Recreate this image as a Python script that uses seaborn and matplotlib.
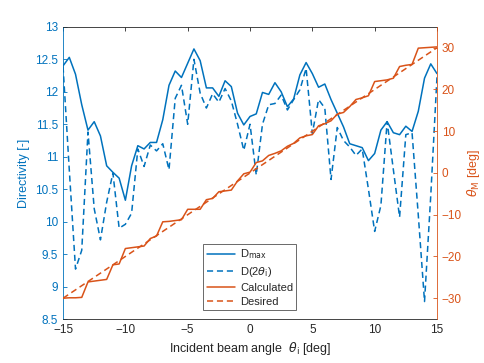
import numpy as np
import pandas as pd
import seaborn as sns
import matplotlib
matplotlib.use("Agg")
import matplotlib.pyplot as plt

# incident angle, 0.5 deg steps
theta_i = [-15, -14.5, -14, -13.5, -13, -12.5, -12, -11.5, -11, -10.5, -10, -9.5, -9, -8.5, -8, -7.5,
           -7, -6.5, -6, -5.5, -5, -4.5, -4, -3.5, -3, -2.5, -2, -1.5, -1, -0.5, 0, 0.5, 1, 1.5, 2,
           2.5, 3, 3.5, 4, 4.5, 5, 5.5, 6, 6.5, 7, 7.5, 8, 8.5, 9, 9.5, 10, 10.5, 11, 11.5, 12,
           12.5, 13, 13.5, 14, 14.5, 15]

d_max = [12.40, 12.53, 12.27, 11.80, 11.41, 11.54, 11.32, 10.86, 10.76, 10.67, 10.33, 10.86, 11.17,
         11.12, 11.22, 11.22, 11.57, 12.10, 12.32, 12.22, 12.44, 12.66, 12.48, 12.06, 12.06, 11.93,
         12.17, 12.08, 11.67, 11.49, 11.62, 11.66, 11.99, 11.96, 12.14, 12.00, 11.77, 11.89, 12.26,
         12.45, 12.28, 12.07, 12.12, 11.88, 11.67, 11.46, 11.20, 11.17, 11.14, 10.94, 11.05, 11.41,
         11.54, 11.37, 11.34, 11.47, 11.39, 11.70, 12.21, 12.43, 12.28]

d_2theta = [12.39, 10.80, 9.27, 9.56, 11.38, 10.20, 9.72, 10.30, 10.75, 9.90, 9.96, 10.13, 11.12,
            10.85, 11.18, 11.09, 11.20, 10.80, 11.90, 12.10, 11.50, 12.50, 11.98, 11.75, 11.97, 11.84,
            12.05, 11.86, 11.50, 11.10, 11.50, 10.72, 11.50, 11.80, 11.82, 11.95, 11.72, 11.88, 12.03,
            12.36, 11.36, 11.88, 11.75, 10.65, 11.45, 11.25, 11.15, 11.02, 11.12, 10.50, 9.85, 10.25,
            11.54, 10.80, 10.07, 11.34, 11.37, 10.10, 8.77, 10.40, 12.23]

theta_m_calc = [-30, -29.9, -29.9, -29.8, -26.1, -25.9, -25.7, -25.5, -22, -21.8, -18.1, -17.9, -17.7,
                -17.5, -15.7, -15.1, -11.7, -11.6, -11.4, -11.2, -8.7, -8.7, -8.7, -6.4, -6.1, -4.5,
                -4.3, -4.1, -1.9, -0.2, 0.2, 2.5, 2.9, 4.2, 4.7, 5.3, 6.4, 7.1, 8.4, 8.9, 9.2, 11.3,
                11.8, 12.5, 14.1, 14.5, 15.9, 17.6, 18.0, 18.5, 21.9, 22.1, 22.3, 22.7, 25.5, 25.8,
                26.0, 29.9, 30.0, 30.1, 30.2]

desired_x = [-15, 15]
desired_y = [-30, 30]

blue = '#0072BD'
orange = '#D95319'
dark = '#262626'

sns.set_style("white")
plt.rcParams['font.family'] = ['Liberation Sans', 'DejaVu Sans']
plt.rcParams['mathtext.fontset'] = 'dejavusans'

df = pd.DataFrame({'theta': theta_i, 'dmax': d_max, 'd2': d_2theta, 'calc': theta_m_calc})

fig = plt.figure(figsize=(4.85, 3.63), dpi=100)
ax = fig.add_axes([0.130, 0.121, 0.771, 0.805])
ax2 = ax.twinx()

sns.lineplot(data=df, x='theta', y='dmax', ax=ax, color=blue, lw=1.1, label=r'D$_{\rm max}$',
             legend=False)
sns.lineplot(data=df, x='theta', y='d2', ax=ax, color=blue, lw=1.1, label=r'D(2$\theta_{\rm i}$)',
             legend=False, dashes=False, linestyle=(0, (4, 2.5)))
sns.lineplot(data=df, x='theta', y='calc', ax=ax2, color=orange, lw=1.1, label='Calculated',
             legend=False)
sns.lineplot(x=desired_x, y=desired_y, ax=ax2, color=orange, lw=1.1, label='Desired',
             legend=False, linestyle=(0, (4, 2.5)))

ax.set_xlim(-15, 15)
ax.set_ylim(8.5, 13)
ax.set_yticks(np.arange(8.5, 13.01, 0.5))
ax.set_yticklabels(['8.5', '9', '9.5', '10', '10.5', '11', '11.5', '12', '12.5', '13'])
ax.set_xticks([-15, -10, -5, 0, 5, 10, 15])
ax2.set_ylim(-35, 35)
ax2.set_yticks([-30, -20, -10, 0, 10, 20, 30])

ax.tick_params(axis='x', direction='in', top=True, length=3, width=0.6, colors=dark, labelsize=8.5)
ax.tick_params(axis='y', direction='in', length=3, width=0.6, colors=blue, labelsize=8.5)
ax2.tick_params(axis='y', direction='in', length=3, width=0.6, colors=orange, labelsize=8.5)

for sp in ['top', 'bottom']:
    ax.spines[sp].set_color(dark)
    ax.spines[sp].set_linewidth(0.6)
    ax2.spines[sp].set_visible(False)
ax.spines['left'].set_color(blue)
ax.spines['left'].set_linewidth(0.6)
ax.spines['right'].set_visible(False)
ax2.spines['left'].set_visible(False)
ax2.spines['right'].set_color(orange)
ax2.spines['right'].set_linewidth(0.6)

ax.set_xlabel(r'Incident beam angle  $\theta_{\rm i}$ [deg]', fontsize=9, color=dark, labelpad=3)
ax.set_ylabel('Directivity [-]', fontsize=9, color=blue, labelpad=4)
ax2.set_ylabel(r'$\theta_{\rm M}$ [deg]', fontsize=9, color=orange, labelpad=2)

h1, l1 = ax.get_legend_handles_labels()
h2, l2 = ax2.get_legend_handles_labels()
leg = ax2.legend(h1 + h2, l1 + l2, loc='lower left', bbox_to_anchor=(0.375, 0.03), fontsize=8,
                 frameon=True, fancybox=False, edgecolor=dark, handlelength=2.6,
                 borderpad=0.3, labelspacing=0.35, handletextpad=0.4, borderaxespad=0)
leg.get_frame().set_linewidth(0.6)

fig.savefig('out.png', dpi=100)
